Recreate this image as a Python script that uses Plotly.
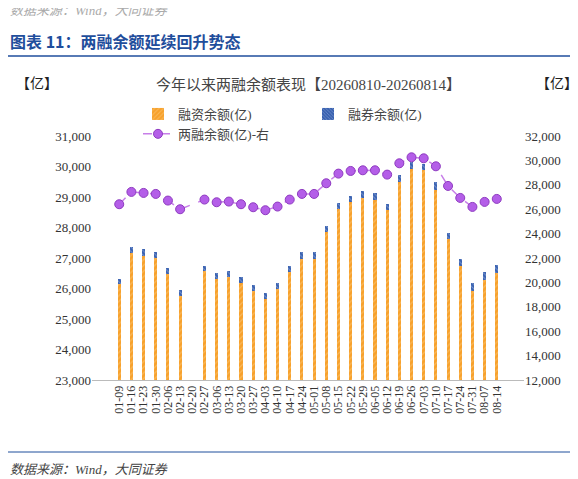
import plotly.graph_objects as go

dates = ["01-09", "01-16", "01-23", "01-30", "02-06", "02-13", "02-20", "02-27",
         "03-06", "03-13", "03-20", "03-27", "04-03", "04-10", "04-17", "04-24",
         "05-01", "05-08", "05-15", "05-22", "05-29", "06-05", "06-12", "06-19",
         "06-26", "07-03", "07-10", "07-17", "07-24", "07-31", "08-07", "08-14"]

# 融资余额 (亿), 02-20 has no data
financing = [26144, 27148, 27061, 26996, 26472, 25751, None, 26559,
             26297, 26362, 26166, 25926, 25642, 25991, 26537, 26974,
             26974, 27869, 28622, 28841, 28972, 28895, 28568, 29495,
             29932, 29878, 29245, 27607, 26734, 25926, 26275, 26515]
# 融券余额 (亿)
securities = [175, 219, 219, 196, 207, 186, None, 186,
              196, 197, 207, 196, 196, 197, 208, 218,
              218, 185, 197, 207, 218, 240, 218, 219,
              218, 218, 250, 218, 218, 240, 273, 262]
# 两融余额 (亿), right axis
total = [26407, 27416, 27334, 27252, 26707, 25997, None, 26789,
         26570, 26625, 26407, 26161, 25916, 26216, 26789, 27252,
         27252, 28126, 28917, 29135, 29190, 29190, 28835, 29763,
         30254, 30172, 29517, 27907, 26925, 26188, 26598, 26843]

left_ticks = list(range(23000, 31001, 1000))
right_ticks = list(range(12000, 32001, 2000))

W, H = 578, 479
ML, MR, MT, MB = 84, 62, 128, 107
pw, ph = W - ML - MR, H - MT - MB


def px(x):
    return (x - ML) / pw


def py(y):
    return (H - y - MB) / ph


font = "Liberation Serif, Noto Sans CJK SC"
fig = go.Figure()
fig.add_trace(go.Bar(
    x=dates, y=financing, name="融资余额(亿)", width=0.25,
    marker=dict(color="#f7a12c", line=dict(width=0),
                pattern=dict(shape="/", fgcolor="#fbd08a", size=4, solidity=0.3)),
))
fig.add_trace(go.Bar(
    x=dates, y=securities, name="融券余额(亿)", width=0.25,
    marker=dict(color="#3a62b0", line=dict(width=0),
                pattern=dict(shape="\\", fgcolor="#b8c8ee", size=3, solidity=0.3)),
))
fig.add_trace(go.Scatter(
    x=dates, y=total, name="两融余额(亿)-右", yaxis="y2", connectgaps=True,
    mode="lines+markers",
    line=dict(color="#c77ee8", width=1.5, dash="dash"),
    marker=dict(color="#b45ee8", size=9, line=dict(color="#8e3bc0", width=1)),
))

fig.update_layout(
    width=W, height=H,
    margin=dict(l=ML, r=MR, t=MT, b=MB),
    paper_bgcolor="white", plot_bgcolor="white",
    barmode="stack",
    font=dict(family=font, size=12, color="#333"),
    showlegend=True,
    legend=dict(orientation="h", x=px(300), xanchor="center", y=py(91),
                yanchor="top", font=dict(size=13, color="#444"),
                traceorder="normal", entrywidth=125, entrywidthmode="pixels"),
    xaxis=dict(type="category", tickangle=-90, showgrid=False, tickmode="array",
               tickvals=dates, ticktext=dates,
               showline=True, linecolor="#bbb", ticks="", tickfont=dict(size=12)),
    yaxis=dict(range=[23000, 31000], tickvals=left_ticks,
               ticktext=[f"{v:,}" for v in left_ticks], showgrid=False,
               tickfont=dict(size=13)),
    yaxis2=dict(range=[12000, 32000], tickvals=right_ticks,
                ticktext=[f"{v:,}" for v in right_ticks], overlaying="y",
                side="right", showgrid=False, tickfont=dict(size=13)),
)

annotations = [
    dict(text="<i>数据来源：Wind，大同证券</i>", x=px(0), y=py(2), xanchor="left",
         yanchor="middle", font=dict(size=13, color="#aaa")),
    dict(text="<b>图表 11：两融余额延续回升势态</b>", x=px(0), y=py(33),
         xanchor="left", yanchor="middle",
         font=dict(size=16, color="#1f4e9c", family="Noto Sans CJK SC")),
    dict(text="今年以来两融余额表现【20260810-20260814】", x=px(300), y=py(77),
         xanchor="center", yanchor="middle", font=dict(size=15, color="#444")),
    dict(text="【亿】", x=px(6), y=py(75), xanchor="left", yanchor="middle",
         font=dict(size=14, color="#222")),
    dict(text="【亿】", x=px(572), y=py(75), xanchor="right", yanchor="middle",
         font=dict(size=14, color="#222")),
    dict(text="<i>数据来源：Wind，大同证券</i>", x=px(0), y=py(461),
         xanchor="left", yanchor="middle", font=dict(size=13, color="#444")),
]
for a in annotations:
    a.update(xref="paper", yref="paper", showarrow=False)
fig.update_layout(annotations=annotations)

fig.update_layout(shapes=[
    dict(type="line", xref="paper", yref="paper", x0=px(0), x1=px(W),
         y0=py(48), y1=py(48), line=dict(color="#1f4e9c", width=1.5)),
    dict(type="line", xref="paper", yref="paper", x0=px(0), x1=px(W),
         y0=py(444), y1=py(444), line=dict(color="#1f4e9c", width=1)),
])

fig.write_html("out.html")
